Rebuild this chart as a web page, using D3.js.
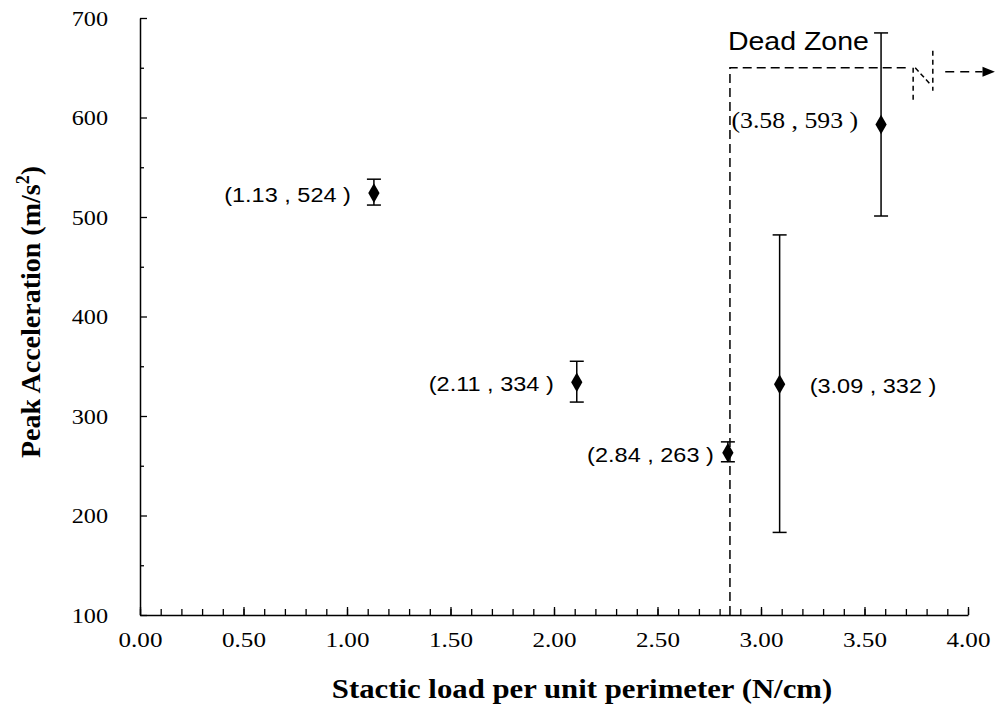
<html><head>
<script src="https://d3js.org/d3.v7.min.js"></script>
<style>
  body { margin: 0; background: white; }
</style>
</head>
<body>
<svg id="chart" width="999" height="726"></svg>
<script>
// measured values
const loads = [1.13, 2.11, 2.84, 3.09, 3.58];
const peaks = [524, 334, 263, 332, 593];
const errUp = [14, 21, 11, 150, 92];
const errDown = [12, 20, 9, 149, 92];
const labelSide = ["left", "left", "left", "right", "left"];
const labelSerif = [false, false, false, false, true];

const xMajor = [0, 0.5, 1, 1.5, 2, 2.5, 3, 3.5, 4];
const xMinor = d3.range(0, 41).map(i => i / 10);
const yMajor = [100, 200, 300, 400, 500, 600, 700];
const yMinor = [150, 250, 350, 450, 550, 650];

// dead zone annotation (data units)
const deadX = 2.85, deadTop = 650, deadRight = 3.71;

const SERIF = '"Liberation Serif", "Times New Roman", Times, serif';
const SANS = '"Liberation Sans", Arial, Helvetica, sans-serif';

const svg = d3.select("svg#chart");
const x = d3.scaleLinear().domain([0, 4]).range([140, 968]);
const y = d3.scaleLinear().domain([100, 700]).range([615, 18]);

// stretch text horizontally like the original picture
function stretch(sel, s) {
  sel.each(function() {
    const t = d3.select(this);
    const tx = +t.attr("x") || 0;
    t.attr("transform", `translate(${tx * (1 - s)},0) scale(${s},1)`);
  });
}

// x axis
svg.append("g").attr("transform", `translate(0,${y(100)})`)
  .call(d3.axisBottom(x).tickValues(xMinor).tickSize(-6).tickSizeOuter(0).tickFormat(""))
  .call(g => g.select(".domain").remove());
let xa = svg.append("g").attr("transform", `translate(0,${y(100)})`)
  .call(d3.axisBottom(x).tickValues(xMajor).tickSize(-8).tickSizeOuter(0)
        .tickPadding(16).tickFormat(d => d.toFixed(2)));
xa.select(".domain").attr("stroke-width", 1.5);
xa.selectAll("text").attr("dy", "0.71em")
  .style("font-family", SERIF).style("font-size", "22px").attr("fill", "black")
  .call(stretch, 1.14);

// y axis
svg.append("g").attr("transform", `translate(${x(0)},0)`)
  .call(d3.axisLeft(y).tickValues(yMinor).tickSize(-4).tickSizeOuter(0).tickFormat(""))
  .call(g => g.select(".domain").remove());
let ya = svg.append("g").attr("transform", `translate(${x(0)},0)`)
  .call(d3.axisLeft(y).tickValues(yMajor).tickSize(-7).tickSizeOuter(0).tickPadding(32));
ya.select(".domain").attr("stroke-width", 1.5);
ya.selectAll("text")
  .style("font-family", SERIF).style("font-size", "22px").attr("fill", "black")
  .call(stretch, 1.1);
svg.selectAll(".tick line").attr("stroke-width", 1.3);

// dead zone lines
const dz = svg.append("g").attr("fill", "none").attr("stroke", "black").attr("stroke-width", 1.5);
dz.append("path").attr("stroke-dasharray", "9,5")
  .attr("d", d3.line()([[x(deadX), y(100)], [x(deadX), y(deadTop)], [x(deadRight), y(deadTop)]]));
dz.append("line").attr("stroke-dasharray", "5,4")
  .attr("x1", x(3.735)).attr("x2", x(3.735)).attr("y1", y(deadTop)).attr("y2", y(617));
dz.append("line").attr("stroke-dasharray", "5,3")
  .attr("x1", x(3.745)).attr("x2", x(3.815)).attr("y1", y(deadTop)).attr("y2", y(634));
dz.append("line").attr("stroke-dasharray", "5,4")
  .attr("x1", x(3.83)).attr("x2", x(3.83)).attr("y1", y(667)).attr("y2", y(627));
dz.append("line").attr("stroke-dasharray", "9,6")
  .attr("x1", x(3.89)).attr("x2", x(4.07)).attr("y1", y(646)).attr("y2", y(646));
svg.append("path").attr("fill", "black")
  .attr("d", d3.line()([[x(4.07), y(646) - 5], [x(4.13), y(646)], [x(4.07), y(646) + 5]]));

svg.append("text")
  .style("font-family", SANS).style("font-size", "25px")
  .attr("x", x(deadX) - 2).attr("y", y(668)).text("Dead Zone")
  .call(stretch, 1.14);

// error bars and points
const pts = loads.map((d, i) => ({x: d, y: peaks[i], hi: peaks[i] + errUp[i], lo: peaks[i] - errDown[i],
  side: labelSide[i], serif: labelSerif[i]}));

const eb = svg.append("g").attr("stroke", "black").attr("stroke-width", 1.5);
pts.forEach(p => {
  eb.append("line").attr("x1", x(p.x)).attr("x2", x(p.x)).attr("y1", y(p.hi)).attr("y2", y(p.lo));
  eb.append("line").attr("x1", x(p.x) - 7).attr("x2", x(p.x) + 7).attr("y1", y(p.hi)).attr("y2", y(p.hi));
  eb.append("line").attr("x1", x(p.x) - 7).attr("x2", x(p.x) + 7).attr("y1", y(p.lo)).attr("y2", y(p.lo));
});

svg.selectAll("path.pt").data(pts).join("path")
  .attr("class", "pt")
  .attr("d", d3.symbol(d3.symbolDiamond, 110))
  .attr("transform", d => `translate(${x(d.x)},${y(d.y)})`)
  .attr("fill", "black");

svg.selectAll("text.ptlabel").data(pts).join("text")
  .attr("class", "ptlabel")
  .style("font-family", d => d.serif ? SERIF : SANS)
  .style("font-size", d => d.serif ? "23px" : "21px")
  .attr("x", d => d.side == "left" ? x(d.x) - (d.x > 2.5 && d.x < 3 ? 14 : 23) : x(d.x) + 30)
  .attr("y", d => y(d.y) + (d.serif ? 4 : 9))
  .attr("text-anchor", d => d.side == "left" ? "end" : "start")
  .text(d => `(${d.x.toFixed(2)} , ${d.y} )`)
  .call(stretch, 1.12);

// axis titles
svg.append("text")
  .style("font-family", SERIF).style("font-size", "27px").style("font-weight", "bold")
  .attr("x", 582).attr("y", 698).attr("text-anchor", "middle")
  .text("Stactic load per unit perimeter (N/cm)")
  .call(stretch, 1.14);

const yt = svg.append("text")
  .style("font-family", SERIF).style("font-size", "28px").style("font-weight", "bold")
  .attr("transform", "translate(40,312) rotate(-90)")
  .attr("text-anchor", "middle");
yt.append("tspan").text("Peak Acceleration (m/s");
yt.append("tspan").text("2").attr("dy", -11).style("font-size", "18px");
yt.append("tspan").text(")").attr("dy", 11);
</script>
</body>
</html>
